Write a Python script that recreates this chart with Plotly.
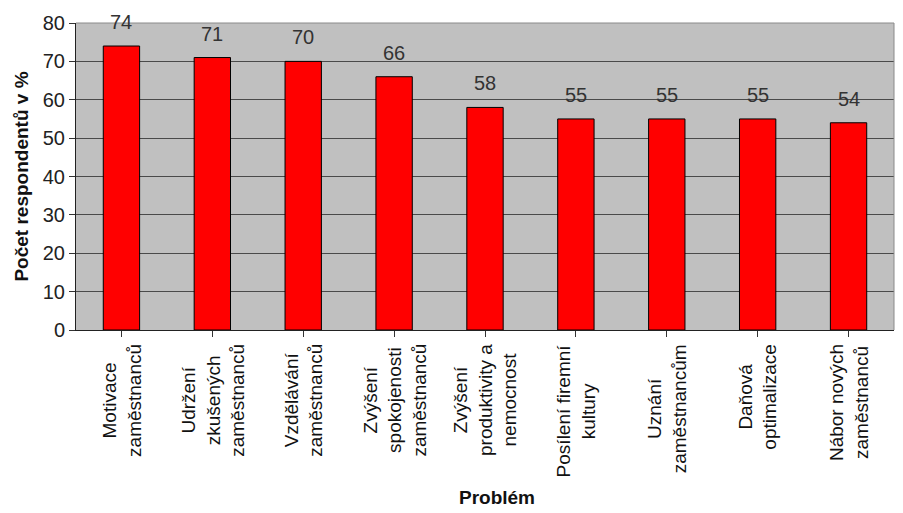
import plotly.graph_objects as go

# Survey data: share of respondents naming each problem (%)
categories = [
    "Motivace<br>zaměstnanců",
    "Udržení<br>zkušených<br>zaměstnanců",
    "Vzdělávání<br>zaměstnanců",
    "Zvýšení<br>spokojenosti<br>zaměstnanců",
    "Zvýšení<br>produktivity a<br>nemocnost",
    "Posílení firemní<br>kultury",
    "Uznání<br>zaměstnancům",
    "Daňová<br>optimalizace",
    "Nábor nových<br>zaměstnanců",
]
values = [74, 71, 70, 66, 58, 55, 55, 55, 54]
y_ticks = [0, 10, 20, 30, 40, 50, 60, 70, 80]

FONT = "Liberation Sans, Arial, sans-serif"
xs = list(range(len(categories)))

fig = go.Figure()
fig.add_trace(go.Bar(
    x=xs,
    y=values,
    marker=dict(color="#ff0000", line=dict(color="#000000", width=1)),
    width=0.4,
    hoverinfo="x+y",
))

# Value labels above each bar
for i, v in enumerate(values):
    fig.add_annotation(
        x=i, y=v, xref="x", yref="y", yshift=11,
        xanchor="center", yanchor="bottom", showarrow=False,
        text=str(v), font=dict(family=FONT, size=20, color="#333333"),
    )

# Rotated, centred category labels under the axis
for i, cat in enumerate(categories):
    fig.add_annotation(
        x=i, y=0, xref="x", yref="paper",
        yshift=-12, yanchor="top", xanchor="center",
        text=cat, textangle=-90, showarrow=False, align="center",
        font=dict(family=FONT, size=19, color="#111111"),
    )

# X axis title
fig.add_annotation(
    x=0.515, y=0, xref="paper", yref="paper", yshift=-167,
    xanchor="center", yanchor="middle", showarrow=False,
    text="<b>Problém</b>",
    font=dict(family=FONT, size=19, color="#111111"),
)

fig.update_layout(
    width=903, height=513,
    margin=dict(l=76, r=9, t=23, b=183),
    paper_bgcolor="#ffffff",
    plot_bgcolor="#c0c0c0",
    showlegend=False,
    xaxis=dict(
        range=[-0.5, len(categories) - 0.5],
        tickmode="array", tickvals=xs,
        showticklabels=False,
        ticks="outside", tickson="boundaries", ticklen=6,
        tickcolor="#333333",
        showline=True, linecolor="#222222", linewidth=1,
        showgrid=False, zeroline=False,
    ),
    yaxis=dict(
        range=[0, 80],
        tickmode="array", tickvals=y_ticks,
        ticks="outside", ticklen=6, tickcolor="#333333",
        tickfont=dict(family=FONT, size=20, color="#222222"),
        showline=True, linecolor="#222222", linewidth=1,
        showgrid=True, gridcolor="#4a4a4a", gridwidth=1,
        zeroline=False,
        title=dict(text="<b>Počet respondentů v %</b>", standoff=9,
                   font=dict(family=FONT, size=19, color="#111111")),
    ),
)

# Light frame on the top and right of the plot area
fig.add_shape(type="line", xref="paper", yref="paper", x0=0, x1=1, y0=1, y1=1,
              line=dict(color="#8a8a8a", width=1))
fig.add_shape(type="line", xref="paper", yref="paper", x0=1, x1=1, y0=0, y1=1,
              line=dict(color="#8a8a8a", width=1))

fig.write_html("out.html")
